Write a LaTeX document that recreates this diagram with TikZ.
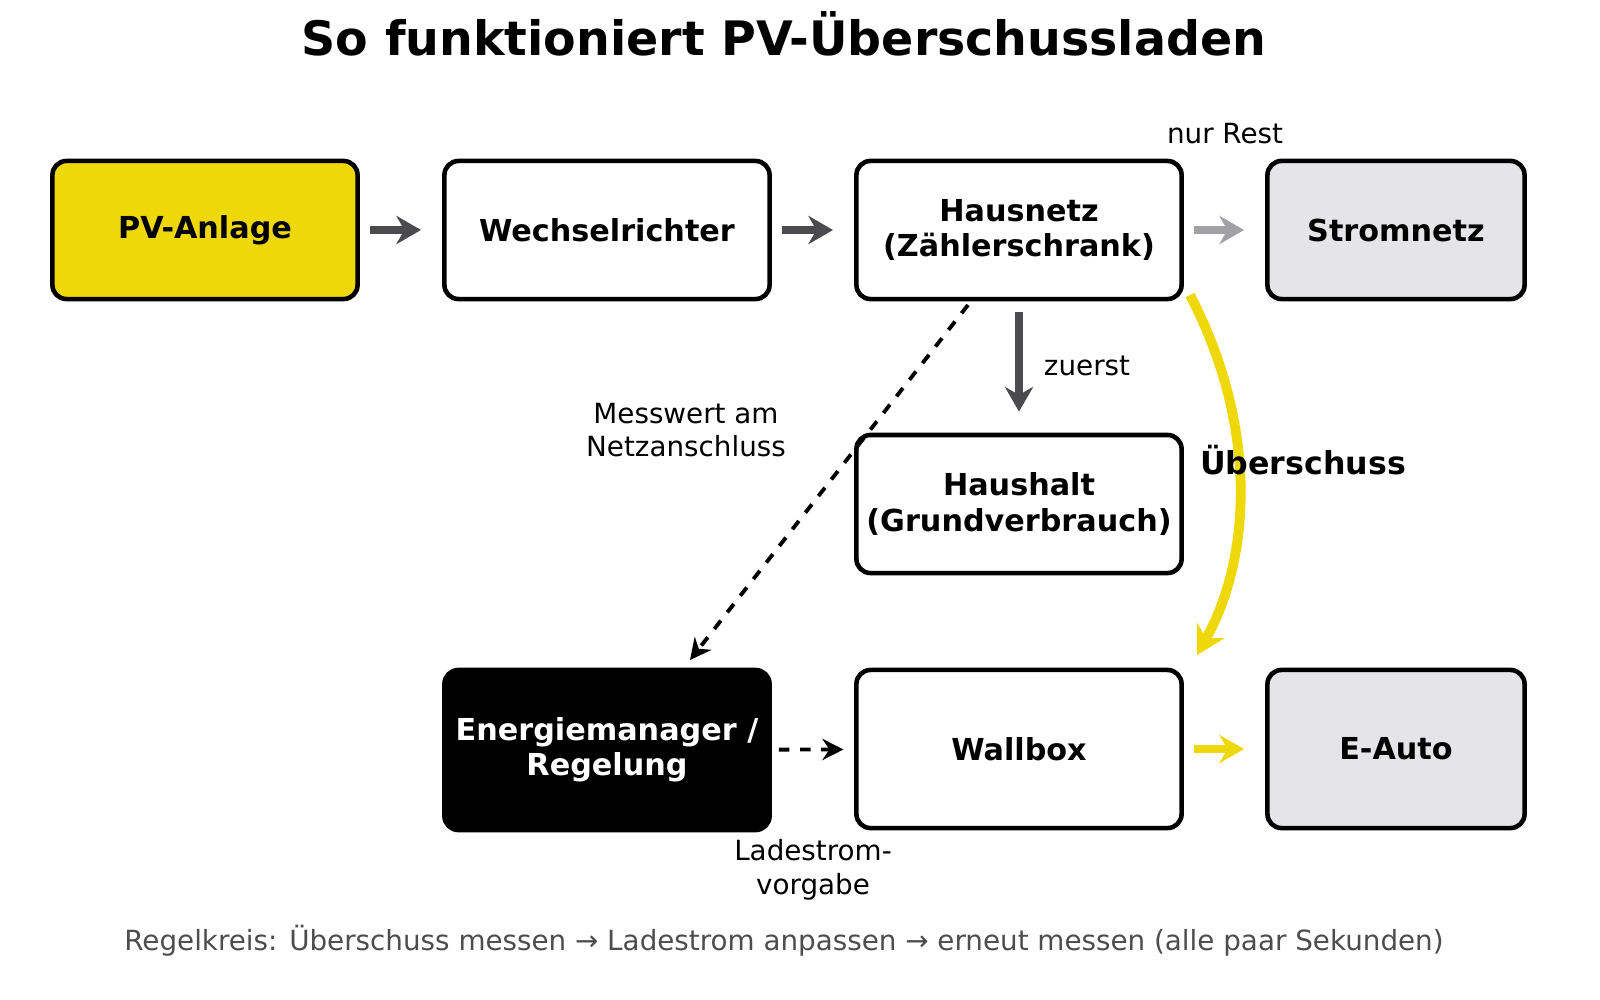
\documentclass[tikz,border=0pt]{standalone}
\usepackage{fontspec}
\setmainfont{DejaVu Sans}
\usetikzlibrary{arrows.meta}
\definecolor{pvyellow}{HTML}{EED80A}
\definecolor{darkgrey}{HTML}{4A4A4F}
\definecolor{lightgrey}{HTML}{A0A0A5}
\definecolor{boxgrey}{HTML}{E5E5E8}
\definecolor{textgrey}{HTML}{4D4D4D}
\begin{document}
\begin{tikzpicture}[x=0.01cm, y=-0.01cm,
  box/.style={draw=black, line width=1.3pt, rounded corners=4pt, align=center,
    font=\fontsize{8.6}{10}\selectfont\bfseries, inner sep=0pt},
  flow/.style={line width=2.1pt, shorten <=3pt, shorten >=3pt, -{Stealth[length=7pt,width=8pt]}},
  lbl/.style={font=\fontsize{7.9}{9.6}\selectfont, align=center}]
  \useasboundingbox (0,0) rectangle (1600,1000);
  \node[font=\fontsize{13.5}{16}\selectfont\bfseries] (title) at (784,34) {So funktioniert PV-Überschussladen};

  % Top row
  \node[box, fill=pvyellow, minimum width=3.05cm, minimum height=1.38cm] (pv) at (205,230) {PV-Anlage};
  \node[box, minimum width=3.25cm, minimum height=1.38cm] (wr) at (607,230) {Wechselrichter};
  \node[box, minimum width=3.25cm, minimum height=1.38cm] (hn) at (1019,230) {Hausnetz\\(Zählerschrank)};
  \node[box, fill=boxgrey, minimum width=2.57cm, minimum height=1.38cm] (sn) at (1396,230) {Stromnetz};

  % Middle and bottom rows
  \node[box, minimum width=3.25cm, minimum height=1.38cm] (hh) at (1019,504) {Haushalt\\(Grundverbrauch)};
  \node[box, fill=black, text=white, minimum width=3.25cm, minimum height=1.6cm] (em) at (607,750) {Energiemanager /\\Regelung};
  \node[box, minimum width=3.25cm, minimum height=1.58cm] (wb) at (1019,749) {Wallbox};
  \node[box, fill=boxgrey, minimum width=2.57cm, minimum height=1.58cm] (ea) at (1396,749) {E-Auto};

  % Connectors
  \draw[flow, darkgrey, shorten >=6pt] (pv) -- (wr);
  \draw[flow, darkgrey, shorten >=6pt] (wr) -- (hn);
  \draw[flow, lightgrey, shorten >=6pt] (hn) -- (sn);
  \draw[flow, darkgrey, shorten >=6pt] (hn) -- (hh);
  \draw[flow, pvyellow, shorten >=6pt] (wb) -- (ea);
  \coordinate (curvestart) at (1190,295);
  \coordinate (curveend) at (1197,655);
  \draw[line width=2.8pt, pvyellow, -{Stealth[length=8pt,width=9pt]}] (curvestart) .. controls (1260,430) and (1250,560) .. (curveend);
  \coordinate (dashstart) at (968,305);
  \coordinate (dashend) at (690,660);
  \draw[line width=1.1pt, dashed, -{Stealth[length=6pt,width=6pt]}] (dashstart) -- (dashend);
  \draw[line width=1.1pt, dashed, -{Stealth[length=6pt,width=6pt]}, shorten <=2pt, shorten >=3pt] (em) -- (wb);

  % Labels
  \node[lbl] (rest) at (1225,134) {nur Rest};
  \node[lbl] (first) at (1087,366) {zuerst};
  \node[lbl] (mess) at (686,430) {Messwert am\\Netzanschluss};
  \node[lbl, font=\fontsize{9}{10}\selectfont\bfseries] (ueber) at (1303,460) {Überschuss};
  \node[lbl] (lade) at (813,870) {Ladestrom-\\vorgabe};
  \node[lbl, text=textgrey] (foot) at (784,941) {Regelkreis: Überschuss messen → Ladestrom anpassen → erneut messen (alle paar Sekunden)};
\end{tikzpicture}
\end{document}
